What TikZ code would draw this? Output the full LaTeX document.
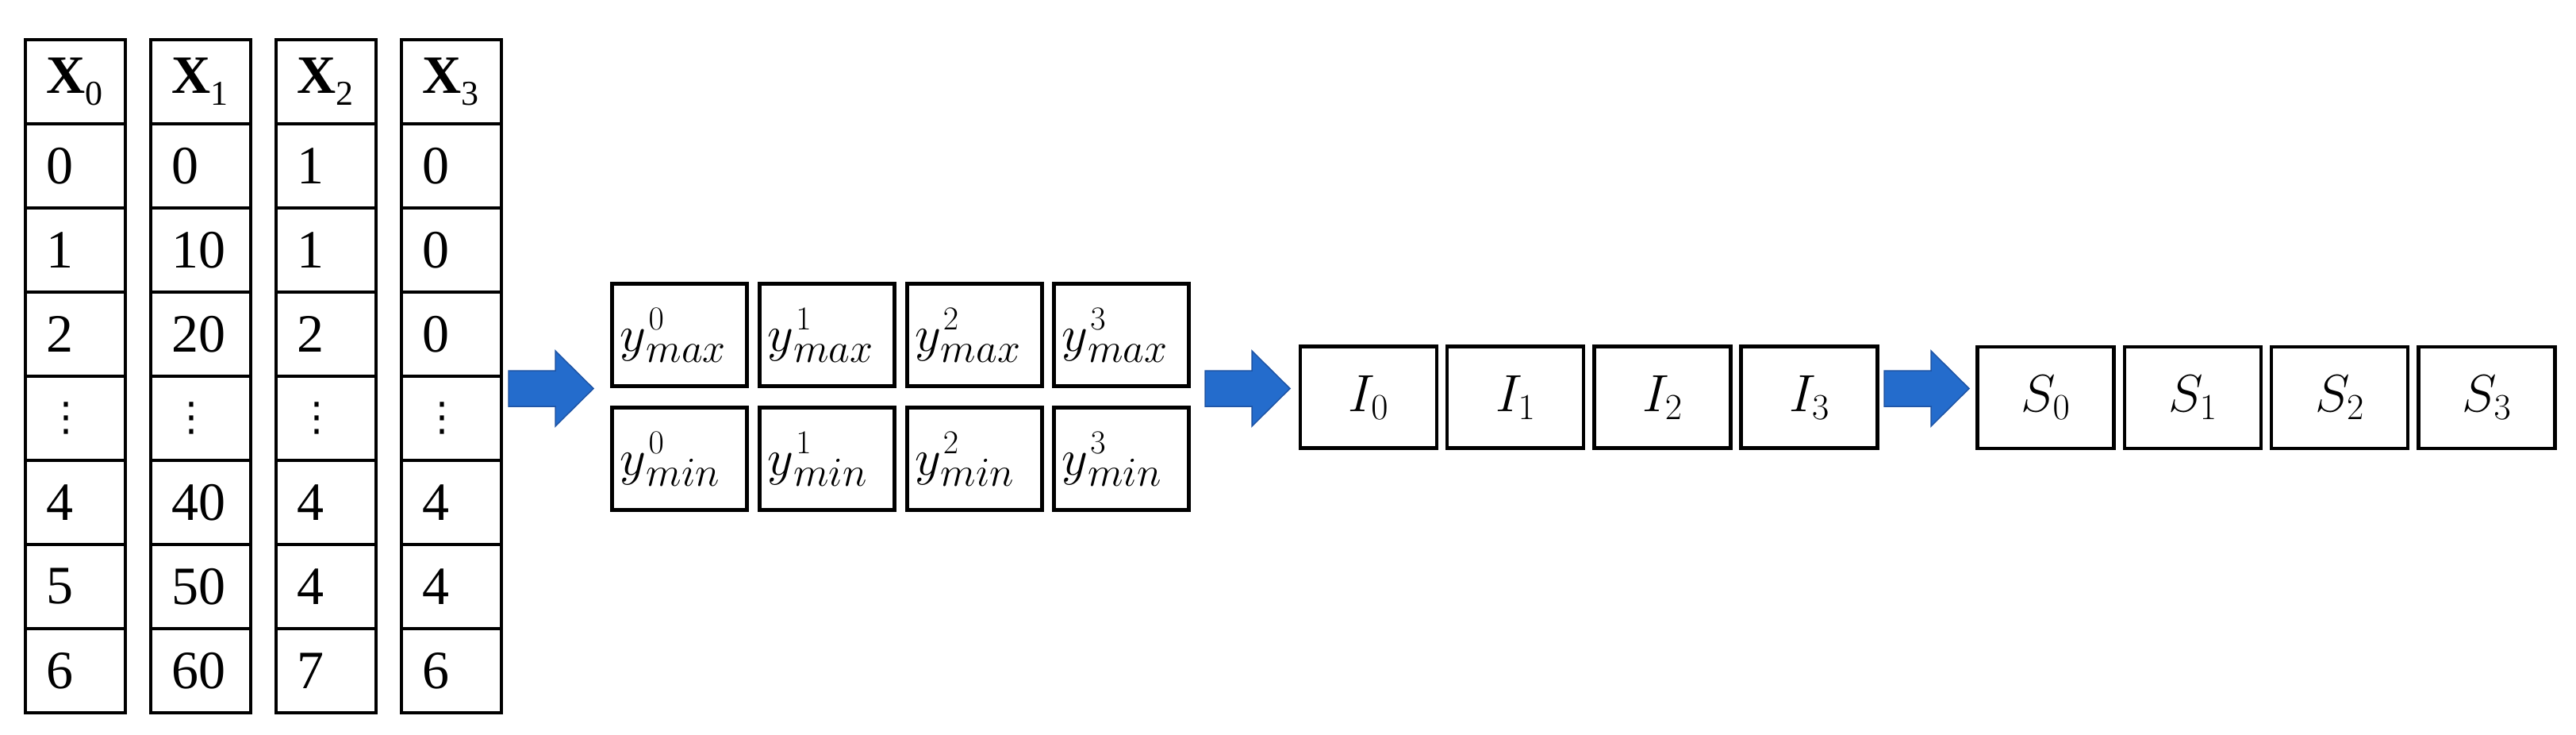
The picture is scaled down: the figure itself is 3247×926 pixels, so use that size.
\documentclass[tikz,border=0pt]{standalone}
\usepackage{fix-cm}
\usepackage{fontspec}
\usepackage{graphicx}
\newfontfamily\tabfont{Liberation Serif}
\newfontfamily\dotfont{DejaVu Sans}
\definecolor{arrowfill}{RGB}{36,108,204}
\definecolor{arrowdraw}{RGB}{30,84,165}
\newcommand{\hdr}[1]{\textbf{X}\raisebox{-15pt}{\fontsize{44}{44}\selectfont #1}}
\newcommand{\vdts}{{\dotfont\fontsize{50}{50}\selectfont ⋮}}
\newcommand{\ysm}[2]{$y$\rlap{\kern3pt\raisebox{27pt}{\fontsize{42}{42}\selectfont$#1$}}\raisebox{-14pt}{\fontsize{52}{52}\selectfont$#2$}}
\tikzset{
  cell/.style={draw, line width=4.5pt, minimum width=126pt, minimum height=106pt,
    inner ysep=0pt, inner xsep=26pt, text width=74pt, align=left,
    font=\tabfont\fontsize{68}{72}\selectfont},
  ybox/.style={draw, line width=5pt, minimum width=170pt, minimum height=129pt,
    inner ysep=0pt, inner xsep=10pt, text width=150pt, align=left,
    font=\fontsize{64}{70}\selectfont},
  sbox/.style={draw, line width=4.5pt, minimum width=172pt, minimum height=128pt,
    inner sep=0pt, font=\fontsize{66}{70}\selectfont},
  blockarr/.pic={\fill[arrowfill, draw=arrowdraw, line width=1.5pt]
    (0,-22.5) -- (59,-22.5) -- (59,-47.5) -- (107,0) -- (59,47.5) -- (59,22.5) -- (0,22.5) -- cycle;}
}
\begin{document}
\begin{tikzpicture}[x=1pt,y=-1pt]
\useasboundingbox (0,0) rectangle (3247,926);
% table columns
\foreach \c/\xc/\vals in {
  0/95/{\hdr{0},0,1,2,\vdts,4,5,6},
  1/253/{\hdr{1},0,10,20,\vdts,40,50,60},
  2/411/{\hdr{2},1,1,2,\vdts,4,4,7},
  3/569/{\hdr{3},0,0,0,\vdts,4,4,6}}{
  \foreach \v [count=\r from 0] in \vals {
    \node[cell] (t\c-\r) at (\xc, 103+106*\r) {\v};
  }
}
% arrows
\pic at (641,489.5) {blockarr};
\pic at (1519,489.5) {blockarr};
\pic at (2375,489.5) {blockarr};
% y boxes
\foreach \i/\xc in {0/856.8,1/1042.5,2/1228,3/1413.5}{
  \node[ybox] (ymax\i) at (\xc,422) {\ysm{\i}{max}};
  \node[ybox] (ymin\i) at (\xc,578) {\ysm{\i}{min}};
}
% I boxes
\foreach \i/\xc in {0/1725,1/1910.2,2/2095.4,3/2280.6}{
  \node[sbox] (I\i) at (\xc,500.5) {$I_{\i}$};
}
% S boxes
\foreach \i/\xc in {0/2578.5,1/2763.8,2/2949.1,3/3134.5}{
  \node[sbox] (S\i) at (\xc,501) {$S_{\i}$};
}
\end{tikzpicture}
\end{document}
